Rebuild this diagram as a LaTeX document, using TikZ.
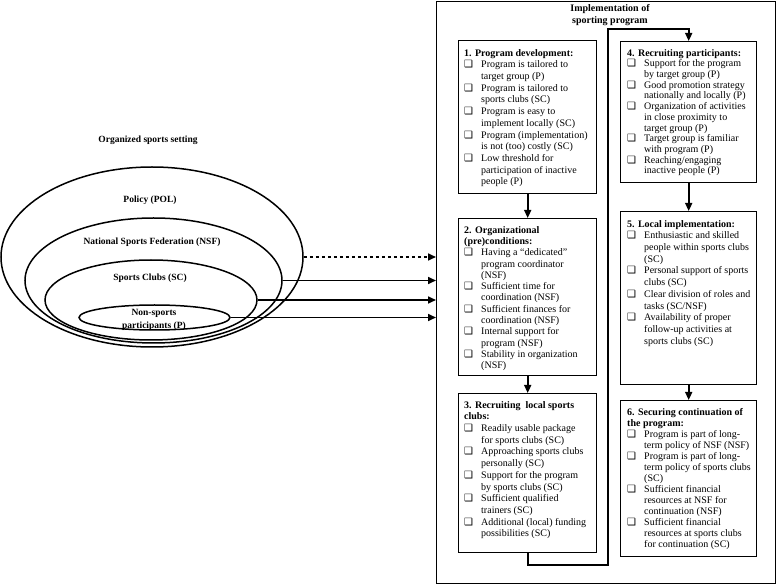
\documentclass[tikz,border=0pt]{standalone}
\usepackage{fontspec}
\setmainfont{Liberation Serif}
\newfontfamily\dvfont{DejaVu Sans Bold}
\usetikzlibrary{arrows.meta,shapes.geometric}
\newcommand{\cbx}{\makebox[17pt][l]{\hspace{0pt}\raisebox{0pt}{\dvfont\fontsize{10}{10}\selectfont ❑}}}
\newcommand{\ind}{\hspace*{17pt}}
\tikzset{
  bx/.style={draw, line width=1.4pt, anchor=north west, inner sep=0pt},
  txt/.style={anchor=north west, align=left, inner sep=0pt, font=\fontsize{10}{11.7}\selectfont},
  lbl/.style={font=\bfseries\fontsize{9.5}{12}\selectfont, inner sep=0pt, align=center},
  ell/.style={draw, ellipse, line width=1.5pt, inner sep=0pt},
  arr/.style={line width=1.6pt, -{Triangle[length=8pt,width=7pt]}},
}
\begin{document}
\begin{tikzpicture}[x=1pt,y=-1pt]
\useasboundingbox (0,0) rectangle (780,585);
% outer frame
\node[draw, line width=1.2pt, anchor=north west, minimum width=339pt, minimum height=582pt, inner sep=0pt] (outer) at (436,1) {};
\node[lbl, font=\bfseries\fontsize{10}{12}\selectfont] (ttl) at (610,15) {Implementation of\\sporting program};

% left side
\node[lbl] (ost) at (148,140) {Organized sports setting};
\node[ell, minimum width=302pt, minimum height=180pt] (pol) at (152,257) {};
\node[ell, minimum width=257pt, minimum height=125pt] (nsf) at (153.5,280.5) {};
\node[ell, minimum width=212pt, minimum height=80pt] (sc) at (151,300) {};
\node[ell, minimum width=151pt, minimum height=25pt] (p) at (154.5,317.5) {};
\node[lbl] (tpol) at (150,200) {Policy (POL)};
\node[lbl] (tnsf) at (152,242) {National Sports Federation (NSF)};
\node[lbl] (tsc) at (150,278) {Sports Clubs (SC)};
\node[lbl, font=\bfseries\fontsize{9.5}{12.5}\selectfont] (tp) at (154,320) {Non-sports\\participants (P)};

\draw[arr, dashed] (pol.east) -- (outer.west |- pol.east);
\draw[arr] (nsf.east) -- (outer.west |- nsf.east);
\draw[arr] (sc.east) -- (outer.west |- sc.east);
\draw[arr] (p.east) -- (outer.west |- p.east);

% boxes
\node[bx, minimum width=138pt, minimum height=153pt] (b1) at (458,40) {};
\node[bx, minimum width=138pt, minimum height=157pt] (b2) at (458,218) {};
\node[bx, minimum width=138pt, minimum height=159pt] (b3) at (458,393) {};
\node[bx, minimum width=136pt, minimum height=141pt] (b4) at (620,41) {};
\node[bx, minimum width=136pt, minimum height=173pt] (b5) at (620,211) {};
\node[bx, minimum width=136pt, minimum height=156pt] (b6) at (620,400) {};

\node[txt] (t1) at ([shift={(6,9)}]b1.north west) {\textbf{1. Program development:}\\
\cbx Program is tailored to\\ \ind target group (P)\\
\cbx Program is tailored to\\ \ind sports clubs (SC)\\
\cbx Program is easy to\\ \ind implement locally (SC)\\
\cbx Program (implementation)\\ \ind is not (too) costly (SC)\\
\cbx Low threshold for\\ \ind participation of inactive\\ \ind people (P)};

\node[txt, font=\fontsize{10}{11.3}\selectfont] (t2) at ([shift={(6,8)}]b2.north west) {\textbf{2. Organizational}\\ \textbf{(pre)conditions:}\\
\cbx Having a “dedicated”\\ \ind program coordinator\\ \ind (NSF)\\
\cbx Sufficient time for\\ \ind coordination (NSF)\\
\cbx Sufficient finances for\\ \ind coordination (NSF)\\
\cbx Internal support for\\ \ind program (NSF)\\
\cbx Stability in organization\\ \ind (NSF)};

\node[txt] (t3) at ([shift={(6,8)}]b3.north west) {\textbf{3. Recruiting\ \ local sports}\\ \textbf{clubs:}\\
\cbx Readily usable package\\ \ind for sports clubs (SC)\\
\cbx Approaching sports clubs\\ \ind personally (SC)\\
\cbx Support for the program\\ \ind by sports clubs (SC)\\
\cbx Sufficient qualified\\ \ind trainers (SC)\\
\cbx Additional (local) funding\\ \ind possibilities (SC)};

\node[txt, font=\fontsize{10}{10.7}\selectfont] (t4) at ([shift={(7,8)}]b4.north west) {\textbf{4. Recruiting participants:}\\
\cbx Support for the program\\ \ind by target group (P)\\
\cbx Good promotion strategy\\ \ind nationally and locally (P)\\
\cbx Organization of activities\\ \ind in close proximity to\\ \ind target group (P)\\
\cbx Target group is familiar\\ \ind with program (P)\\
\cbx Reaching/engaging\\ \ind inactive people (P)};

\node[txt] (t5) at ([shift={(7,9)}]b5.north west) {\textbf{5. Local implementation:}\\
\cbx Enthusiastic and skilled\\ \ind people within sports clubs\\ \ind (SC)\\
\cbx Personal support of sports\\ \ind clubs (SC)\\
\cbx Clear division of roles and\\ \ind tasks (SC/NSF)\\
\cbx Availability of proper\\ \ind follow-up activities at\\ \ind sports clubs (SC)};

\node[txt, font=\fontsize{10}{11}\selectfont] (t6) at ([shift={(7,8)}]b6.north west) {\textbf{6. Securing continuation of}\\ \textbf{the program:}\\
\cbx Program is part of long-\\ \ind term policy of NSF (NSF)\\
\cbx Program is part of long-\\ \ind term policy of sports clubs\\ \ind (SC)\\
\cbx Sufficient financial\\ \ind resources at NSF for\\ \ind continuation (NSF)\\
\cbx Sufficient financial\\ \ind resources at sports clubs\\ \ind for continuation (SC)};

% connectors
\draw[arr] (b1.south) -- (b2.north);
\draw[arr] (b2.south) -- (b3.north);
\draw[arr] (b4.south) -- (b5.north);
\draw[arr] (b5.south) -- (b6.north);
\coordinate (c1) at (608,565);
\coordinate (c2) at (608,29);
\draw[arr] (b3.south) |- (c1) -- (c2) -| (b4.north);
\end{tikzpicture}
\end{document}
